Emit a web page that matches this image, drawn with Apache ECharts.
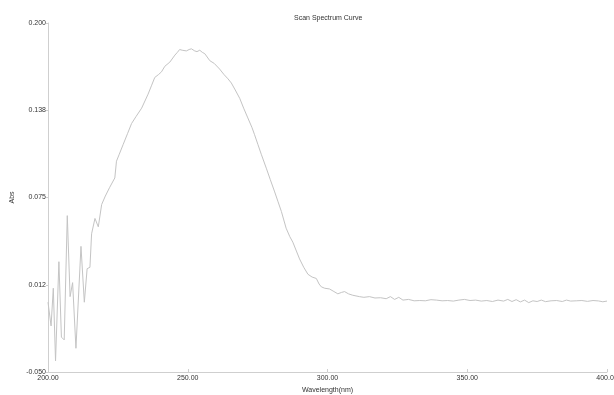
<!DOCTYPE html>
<html>
<head>
<meta charset="utf-8">
<script src="https://cdn.jsdelivr.net/npm/echarts@6/dist/echarts.min.js"></script>
<style>
html,body{margin:0;padding:0;background:#fff;}
#chart{width:614px;height:395px;}
</style>
</head>
<body>
<div id="chart"></div>
<script>
// Wavelength (nm)
var wavelengths = [
  200.0, 201.1, 201.9, 202.7, 203.9, 204.8, 205.8, 206.9, 207.9, 208.8,
  210.0, 211.8, 213.0, 214.0, 215.0, 215.6, 216.8, 218.0, 219.2, 220.5,
  222.0, 223.9, 224.5, 225.5, 226.9, 228.5, 229.9, 231.5, 233.5, 235.8,
  237.0, 238.2, 239.5, 240.6, 241.8, 243.6, 245.4, 246.3, 247.1, 248.0,
  249.5, 250.5, 251.3, 252.5, 253.3, 254.3, 255.2, 256.1, 257.9, 259.5,
  261.4, 263.0, 264.4, 265.6, 267.0, 268.6, 270.0, 271.5, 273.0, 273.9,
  275.1, 276.3, 278.1, 279.5, 281.1, 282.3, 283.5, 285.2, 286.5, 287.6,
  289.0, 290.0, 291.5, 293.0, 294.5, 296.0, 297.0, 297.8, 299.0, 300.7,
  302.0, 303.7, 305.0, 306.1, 307.5, 309.0, 311.4, 313.0, 315.0, 317.0,
  319.0, 321.0, 322.5, 324.0, 325.5, 327.0, 329.0, 331.0, 333.0, 335.0,
  337.0, 339.0, 341.0, 343.0, 345.0, 347.0, 349.0, 351.0, 353.0, 355.0,
  357.0, 359.0, 361.0, 363.0, 364.5, 366.0, 367.5, 369.0, 370.5, 372.0,
  373.5, 375.0, 376.5, 378.0, 380.0, 382.0, 384.0, 385.5, 387.0, 389.0,
  391.0, 393.0, 395.0, 397.0, 398.5, 400.0
];
// Absorbance
var absorbance = [
  0.000, -0.017, 0.010, -0.042, 0.029, -0.025, -0.027, 0.062, 0.004, 0.014,
  -0.033, 0.040, 0.000, 0.024, 0.025, 0.049, 0.060, 0.054, 0.070, 0.076,
  0.082, 0.089, 0.101, 0.106, 0.113, 0.121, 0.128, 0.133, 0.139, 0.149,
  0.155, 0.161, 0.163, 0.165, 0.169, 0.172, 0.177, 0.179, 0.181, 0.1805,
  0.180, 0.181, 0.1815, 0.180, 0.1795, 0.1805, 0.179, 0.178, 0.173, 0.171,
  0.167, 0.163, 0.160, 0.157, 0.152, 0.146, 0.139, 0.132, 0.125, 0.120,
  0.113, 0.106, 0.096, 0.088, 0.079, 0.072, 0.065, 0.053, 0.047, 0.043,
  0.036, 0.031, 0.025, 0.020, 0.018, 0.017, 0.013, 0.011, 0.010, 0.0095,
  0.008, 0.006, 0.007, 0.0076, 0.006, 0.005, 0.004, 0.0035, 0.004, 0.003,
  0.0032, 0.0025, 0.004, 0.002, 0.0035, 0.0015, 0.002, 0.001, 0.0012, 0.001,
  0.0018, 0.0015, 0.001, 0.0012, 0.0008, 0.0015, 0.002, 0.0012, 0.0015, 0.0008,
  0.0012, 0.0005, 0.0015, 0.0008, 0.002, 0.0005, 0.0018, 0.0002, 0.0015, -0.0003,
  0.001, 0.0005, 0.0015, 0.0004, 0.001, 0.0012, 0.0005, 0.0015, 0.0008, 0.001,
  0.0012, 0.0006, 0.0012, 0.0009, 0.0003, 0.0008
];
var yTickValues = [-0.05, 0.0125, 0.075, 0.1375, 0.2];
var yTickLabels = ['-0.050', '0.012', '0.075', '0.138', '0.200'];
var xTickValues = [200, 250, 300, 350, 400];
var xTickLabels = ['200.00', '250.00', '300.00', '350.00', '400.00'];

var seriesData = wavelengths.map(function (w, i) { return [w, absorbance[i]]; });
var font = 'Liberation Sans, Arial, sans-serif';

var chart = echarts.init(document.getElementById('chart'), null, {renderer: 'canvas'});
chart.setOption({
  animation: false,
  backgroundColor: '#ffffff',
  title: {
    text: 'Scan Spectrum Curve',
    left: 289, top: 10,
    textStyle: {fontSize: 7, fontWeight: 'normal', color: '#333', fontFamily: font}
  },
  grid: {left: 48, right: 7, top: 23, bottom: 23, containLabel: false, outerBoundsMode: 'none'},
  xAxis: {
    type: 'value', min: 200, max: 400,
    name: 'Wavelength(nm)', nameLocation: 'middle', nameGap: 14,
    nameTextStyle: {fontSize: 7, color: '#333', fontFamily: font},
    axisLine: {show: true, onZero: false, lineStyle: {color: '#cfcfcf', width: 1}},
    axisTick: {show: true, inside: true, length: 3, customValues: xTickValues, lineStyle: {color: '#cfcfcf'}},
    axisLabel: {
      customValues: xTickValues, fontSize: 7, color: '#333', fontFamily: font, margin: 3,
      formatter: function (v) { return xTickLabels[xTickValues.indexOf(v)]; }
    },
    splitLine: {show: false}
  },
  yAxis: {
    type: 'value', min: -0.05, max: 0.2,
    name: 'Abs', nameLocation: 'middle', nameGap: 28, nameRotate: 90,
    nameTextStyle: {fontSize: 7, color: '#333', fontFamily: font},
    axisLine: {show: true, onZero: false, lineStyle: {color: '#cfcfcf', width: 1}},
    axisTick: {show: true, inside: false, length: 2, customValues: yTickValues, lineStyle: {color: '#cfcfcf'}},
    axisLabel: {
      customValues: yTickValues, fontSize: 7, color: '#333', fontFamily: font, margin: 2,
      formatter: function (v) {
        for (var i = 0; i < yTickValues.length; i++) {
          if (Math.abs(yTickValues[i] - v) < 1e-6) return yTickLabels[i];
        }
        return '';
      }
    },
    splitLine: {show: false}
  },
  series: [{
    type: 'line',
    data: seriesData,
    showSymbol: false,
    smooth: false,
    lineStyle: {color: '#c4c4c4', width: 1}
  }]
});
</script>
</body>
</html>
